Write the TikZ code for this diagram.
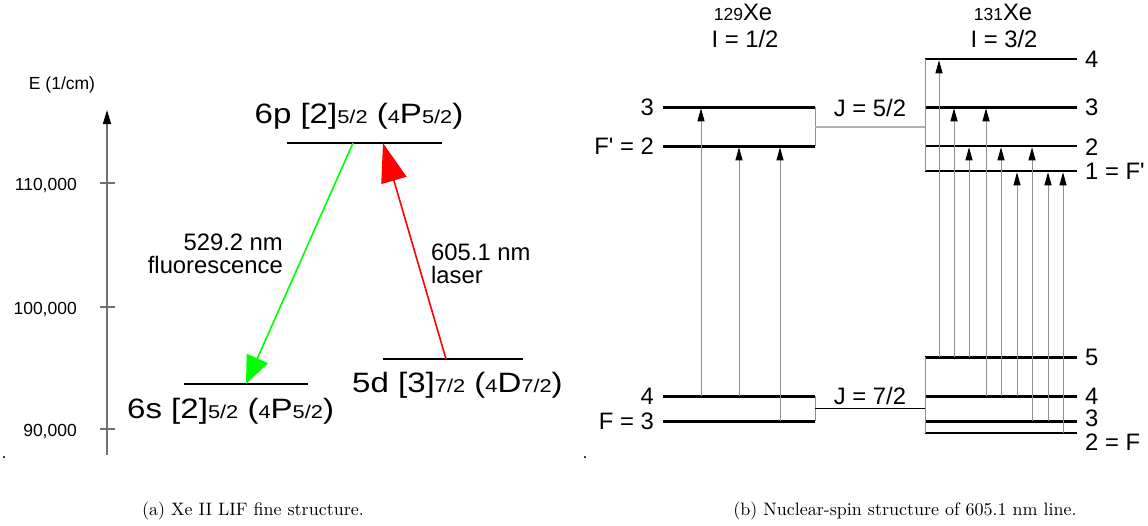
\documentclass[tikz,border=0pt]{standalone}
\usepackage{fontspec}
\newfontfamily\helv{Liberation Sans}
\usepackage{xcolor}
\definecolor{cAxis}{HTML}{707070}
\definecolor{cTrans}{HTML}{8F8F8F}
\definecolor{cLink}{HTML}{B0B0B0}
\definecolor{cFluo}{HTML}{00FF00}
\definecolor{cLaser}{HTML}{FF0000}
\usepackage{tikz}
\usetikzlibrary{arrows.meta}
\newcommand{\lvlsub}[1]{{\fontsize{18.5}{18.5}\selectfont #1}}
\newcommand{\captxt}[1]{\scalebox{1.8}{\fontsize{10}{12}\selectfont #1}}
\tikzset{
  txt-base/.style={font=\helv\fontsize{23.8}{22.7}\selectfont,inner sep=0pt},
  txt/.style={txt-base,text depth=0pt},
  txt-axis/.style={font=\helv\fontsize{17.5}{17.5}\selectfont,inner sep=0pt,text depth=0pt},
  txt-state/.style={font=\helv\fontsize{28}{28}\selectfont,inner sep=0pt,anchor=base},
  txt-cap/.style={inner sep=0pt,anchor=base},
  level-fine/.style={draw=black,line width=1.2pt},
  level-hfs/.style={draw=black,line width=3pt},
  bracket/.style={draw=cTrans,line width=1pt},
  link-up/.style={draw=cLink,line width=1.2pt},
  link-lo/.style={draw=black,line width=1pt},
  trans/.style={draw=cTrans,line width=1pt,
    -{Triangle[length=13pt,width=7pt,color=black]},shorten >=1.3pt},
  axis/.style={draw=cAxis,line width=1.5pt},
  arrow-fluo/.style={draw=cFluo,line width=1.6pt,-{Triangle[length=28pt,width=23pt]}},
  arrow-laser/.style={draw=cLaser,line width=1.6pt,-{Triangle[length=39pt,width=26pt]}},
}

\begin{document}
\begin{tikzpicture}[x=1pt,y=-1pt]
  \useasboundingbox (0,0) rectangle (1148,525);
  % (a) fine structure
  \coordinate (ax-lo) at (107,455);
  \coordinate (ax-hi) at (107,110);
  \draw[axis,-{Triangle[length=14pt,width=8pt,color=black]}] (ax-lo) -- (ax-hi);
  \node[txt-axis] (elabel) at (62,83) {E (1/cm)};
  \foreach \y/\v in {183/{110,000},307/{100,000},429/{90,000}} {
    \draw[axis] (100,\y) -- (115,\y);
    \node[txt-axis,anchor=east] (tick\y) at (77,\y+1) {\v};
  }
  \node[txt-axis,anchor=base] (dota) at (4,458) {.};

  \draw[level-fine] (287,143) -- (442,143);
  \draw[level-fine] (184,384) -- (308,384);
  \draw[level-fine] (383,359) -- (523,359);
  \node[txt-state] (s6p) at (359,123)
    {\scalebox{1.18}[1]{6p [2]\lvlsub{5/2} (\lvlsub{4}P\lvlsub{5/2})}};
  \node[txt-state,anchor=base west] (s6s) at (127,418)
    {\scalebox{1.18}[1]{6s [2]\lvlsub{5/2} (\lvlsub{4}P\lvlsub{5/2})}};
  \node[txt-state,anchor=base west] (s5d) at (352,392)
    {\scalebox{1.18}[1]{5d [3]\lvlsub{7/2} (\lvlsub{4}D\lvlsub{7/2})}};

  \coordinate (fluo-a) at (353,143);
  \coordinate (fluo-b) at (246,384);
  \coordinate (las-a) at (446,359);
  \coordinate (las-b) at (383,143);
  \draw[arrow-fluo] (fluo-a) -- (fluo-b);
  \draw[arrow-laser] (las-a) -- (las-b);
  \node[txt-base,align=right,anchor=east] (lfluo) at (283,254) {529.2 nm\\fluorescence};
  \node[txt-base,align=left,anchor=west] (llaser) at (431,264) {605.1 nm\\laser};

  \node[txt-cap] (capa) at (253,515) {\captxt{(a) Xe II LIF fine structure.}};

  % (b) hyperfine structure
  \node[txt,anchor=base] (h129) at (743,20) {{\fontsize{17.5}{17.5}\selectfont 129}Xe};
  \node[txt,anchor=base] (spin129) at (745,47) {I = 1/2};
  \node[txt,anchor=base] (h131) at (1003,20) {{\fontsize{17.5}{17.5}\selectfont 131}Xe};
  \node[txt,anchor=base] (spin131) at (1004,47) {I = 3/2};

  \foreach \n/\y in {up3/107,up2/146,lo4/396,lo3/421}
    \draw[level-hfs] (663,\y) coordinate (a-\n) -- (815,\y) coordinate (ae-\n);
  \foreach \n/\y/\w in {up4/59/2.5,up3/107/3,up2/146/2,up1/171/2,lo5/357/3,lo4/396/3,lo3/421/3,lo2/433/1.5}
    \draw[black,line width=\w pt] (925,\y) coordinate (b-\n) -- (1077,\y);

  \draw[bracket] (ae-up3) -- (ae-up2);
  \draw[bracket] (ae-lo4) -- (ae-lo3);
  \draw[bracket] (b-up4) -- (b-up1);
  \draw[bracket] (b-lo5) -- (b-lo2);
  \coordinate (j52a) at (815,127);
  \coordinate (j52b) at (925,127);
  \coordinate (j72a) at (815,408);
  \coordinate (j72b) at (925,408);
  \draw[link-up] (j52a) -- node[txt,above=10pt] (j52) {J = 5/2} (j52b);
  \draw[link-lo] (j72a) -- node[txt,above=3.5pt] (j72) {J = 7/2} (j72b);

  \foreach \x/\lo/\hi in {701/lo4/up3,739/lo4/up2,780/lo3/up2}
    \draw[trans] (\x,0 |- a-\lo) -- (\x,0 |- a-\hi);
  \foreach \x/\lo/\hi in {939/lo5/up4,954/lo5/up3,969/lo5/up2,986/lo4/up3,1001/lo4/up2,
      1017/lo4/up1,1032/lo3/up2,1048/lo3/up1,1063/lo2/up1}
    \draw[trans] (\x,0 |- b-\lo) -- (\x,0 |- b-\hi);

  \foreach \n/\y/\t in {up3/107/3,up2/146/F\textquotesingle{} = 2,lo4/396/4,lo3/421/F = 3}
    \node[txt,anchor=east] (la-\n) at (654,\y) {\t};
  \foreach \n/\y/\t in {up4/59/4,up3/107/3,up2/147/2,up1/171/1 = F\textquotesingle,
      lo5/357/5,lo4/396/4,lo3/418/3,lo2/442/2 = F}
    \node[txt,anchor=west] (lb-\n) at (1085,\y) {\t};

  \node[txt-axis,anchor=base] (dotb) at (585,458) {.};
  \node[txt-cap] (capb) at (905,515) {\captxt{(b) Nuclear-spin structure of 605.1 nm line.}};
\end{tikzpicture}
\end{document}
